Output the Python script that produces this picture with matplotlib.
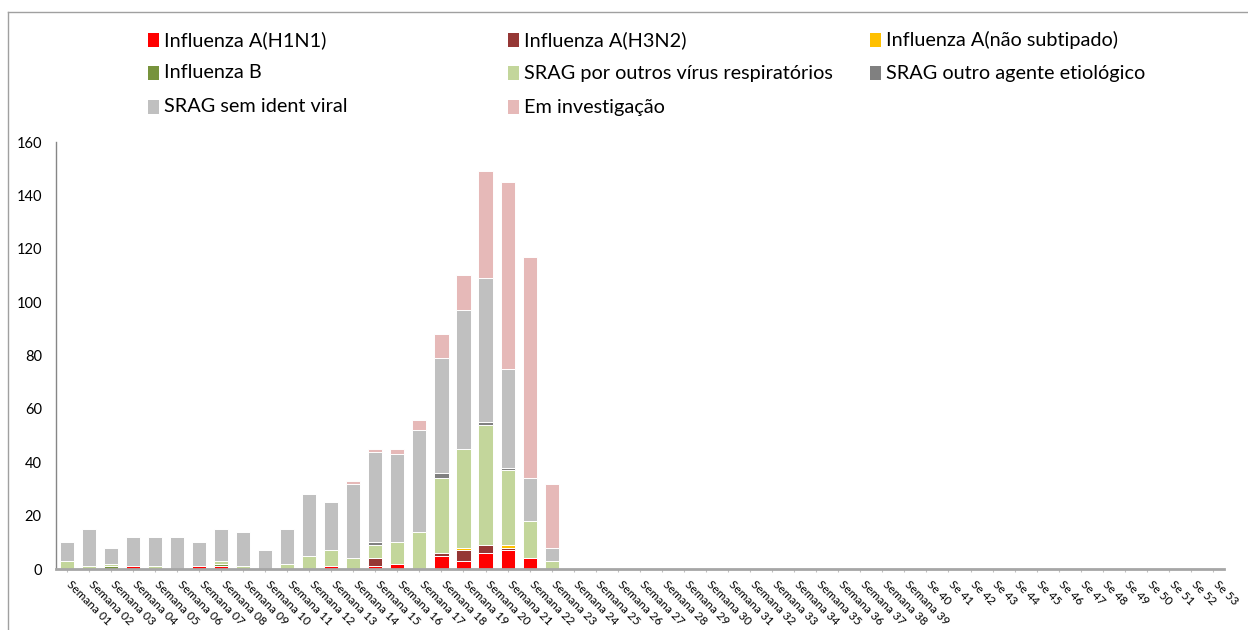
import matplotlib.pyplot as plt
from matplotlib.patches import Rectangle
from matplotlib.lines import Line2D
from matplotlib.transforms import ScaledTranslation
import numpy as np

plt.rcParams['font.family'] = ['Lato', 'DejaVu Sans']

# semanas epidemiológicas
semanas = [f"Semana {i:02d}" for i in range(1, 40)] + [f"Se {i}" for i in range(40, 54)]
VAZIAS = [0] * 30  # semanas 24 a 53 sem casos

# casos por semana (semanas 01 a 23)
h1n1 = [0, 0, 0, 1, 0, 0, 1, 1, 0, 0, 0, 0, 1, 0, 1, 2, 0, 5, 3, 6, 7, 4, 0] + VAZIAS
h3n2 = [0, 0, 0, 0, 0, 0, 0, 0, 0, 0, 0, 0, 0, 0, 3, 0, 0, 1, 4, 3, 1, 0, 0] + VAZIAS
nao_subtipado = [0, 0, 0, 0, 0, 0, 0, 0, 0, 0, 0, 0, 0, 0, 0, 0, 0, 0, 1, 0, 1, 0, 0] + VAZIAS
influenza_b = [0, 0, 1, 0, 0, 0, 0, 1, 0, 0, 0, 0, 0, 0, 0, 0, 0, 0, 0, 0, 0, 0, 0] + VAZIAS
outros_virus = [3, 1, 1, 0, 1, 0, 0, 1, 1, 0, 2, 5, 6, 4, 5, 8, 14, 28, 37, 45, 28, 14, 3] + VAZIAS
outro_agente = [0, 0, 0, 0, 0, 0, 0, 0, 0, 0, 0, 0, 0, 0, 1, 0, 0, 2, 0, 1, 1, 0, 0] + VAZIAS
sem_ident = [7, 14, 6, 11, 11, 12, 9, 12, 13, 7, 13, 23, 18, 28, 34, 33, 38, 43, 52, 54, 37, 16, 5] + VAZIAS
investigacao = [0, 0, 0, 0, 0, 0, 0, 0, 0, 0, 0, 0, 0, 1, 1, 2, 4, 9, 13, 40, 70, 83, 24] + VAZIAS

series = [
    ("Influenza A(H1N1)", h1n1, "#FF0000"),
    ("Influenza A(H3N2)", h3n2, "#953735"),
    ("Influenza A(não subtipado)", nao_subtipado, "#FFC000"),
    ("Influenza B", influenza_b, "#77933C"),
    ("SRAG por outros vírus respiratórios", outros_virus, "#C3D69B"),
    ("SRAG outro agente etiológico", outro_agente, "#808080"),
    ("SRAG sem ident viral", sem_ident, "#C0C0C0"),
    ("Em investigação", investigacao, "#E6B9B8"),
]

fig = plt.figure(figsize=(12.48, 6.3), dpi=100)
ax = fig.add_axes([0.0446, 0.0968, 0.9362, 0.6778])

x = np.arange(len(semanas))
base = np.zeros(len(semanas))
for nome, vals, cor in series:
    vals = np.array(vals, dtype=float)
    ax.bar(x, vals, 0.64, bottom=base, color=cor, edgecolor="white", linewidth=0.7)
    base += vals

ax.set_xlim(-0.5, len(semanas) - 0.5)
ax.set_ylim(0, 160)
ax.set_yticks(range(0, 161, 20))
ax.tick_params(axis="y", length=0, labelsize=10.5, pad=10)
ax.set_xticks(x)
ax.set_xticklabels(semanas, rotation=-45, ha="left", va="top", rotation_mode="anchor", fontsize=8.5)
ax.tick_params(axis="x", length=2, color="#BFBFBF", pad=5)
desloc = ScaledTranslation(6 / 100, 0, fig.dpi_scale_trans)
for lbl in ax.get_xticklabels():
    lbl.set_transform(lbl.get_transform() + desloc)
for s in ["top", "right"]:
    ax.spines[s].set_visible(False)
ax.spines["left"].set_color("#868686")
ax.spines["left"].set_linewidth(1)
ax.spines["bottom"].set_color("#A6A6A6")
ax.spines["bottom"].set_linewidth(2)

# legenda manual (3 colunas)
col_x = [148, 508, 870]
row_y = [40, 73, 107]
W, H = 1248, 630
for i, (nome, vals, cor) in enumerate(series):
    cx = col_x[i % 3]
    cy = row_y[i // 3]
    fig.add_artist(Rectangle((cx / W, 1 - (cy + 6.5) / H), 11 / W, 13 / H,
                             transform=fig.transFigure, color=cor, lw=0))
    fig.text((cx + 16) / W, 1 - cy / H, nome, fontsize=14.3, va="center", ha="left")

# moldura do gráfico
fig.add_artist(Line2D([7.5 / W, 7.5 / W], [0, 1 - 12 / H], transform=fig.transFigure, color="#A0A0A0", lw=1))
fig.add_artist(Line2D([7.5 / W, 1], [1 - 12 / H, 1 - 12 / H], transform=fig.transFigure, color="#A0A0A0", lw=1))

fig.savefig("out.png", dpi=100)
